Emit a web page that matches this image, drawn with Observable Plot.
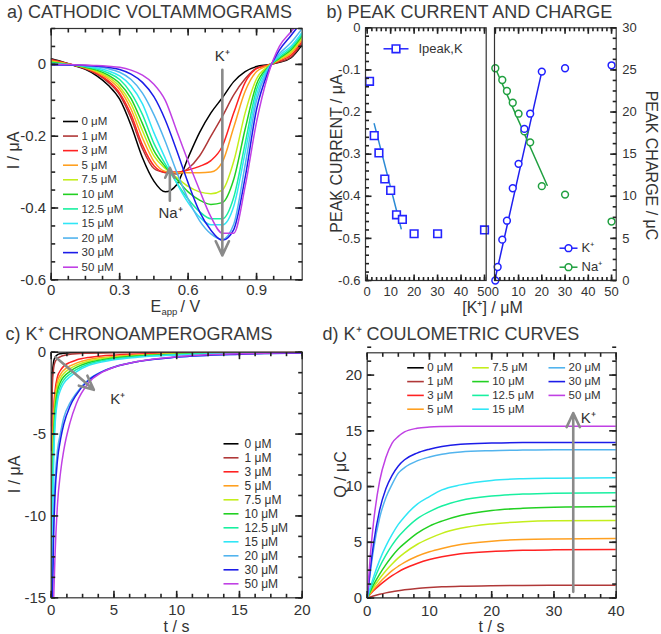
<!DOCTYPE html>
<html><head><meta charset="utf-8">
<script src="https://cdn.jsdelivr.net/npm/d3@7"></script>
<script src="https://cdn.jsdelivr.net/npm/@observablehq/plot@0.6"></script>
<style>
html,body{margin:0;padding:0;background:#fff;}
#fig{position:relative;width:661px;height:634px;overflow:hidden;}
#fig svg{position:absolute;left:0;top:0;}
</style></head><body><div id="fig"></div>
<script>
const W = 661, H = 634;
const FONT = '"Liberation Sans", Arial, Helvetica, sans-serif';
const TXT = "#333";

const concLabels = ["0 μM","1 μM","3 μM","5 μM","7.5 μM","10 μM","12.5 μM","15 μM","20 μM","30 μM","50 μM"];
const seriesColors = ["#000000","#b03838","#ff2222","#ffa020","#c4ee1c","#22d022","#18f0a0","#30e6f6","#52b4ee","#1c1ce8","#c040e4"];

const cvE = [0,0.05,0.1,0.15,0.2,0.25,0.3,0.35,0.4,0.45,0.5,0.55,0.6,0.65,0.7,0.75,0.8,0.85,0.9,0.95,1.0,1.05,1.1];
const cv_0   = [0.016,0.007,-0.003,-0.014,-0.032,-0.058,-0.097,-0.17,-0.26,-0.325,-0.355,-0.335,-0.26,-0.19,-0.135,-0.093,-0.048,-0.02,-0.006,-0.001,0.006,0.018,0.055];
const cv_1   = [0.014,0.006,-0.002,-0.012,-0.027,-0.05,-0.085,-0.15,-0.235,-0.29,-0.302,-0.305,-0.29,-0.255,-0.2,-0.145,-0.085,-0.04,-0.01,-0.002,0.007,0.02,0.06];
const cv_3   = [0.012,0.005,-0.002,-0.011,-0.025,-0.046,-0.08,-0.14,-0.225,-0.282,-0.3,-0.3,-0.294,-0.284,-0.268,-0.228,-0.135,-0.05,-0.012,-0.002,0.01,0.025,0.065];
const cv_5   = [0.01,0.004,-0.002,-0.01,-0.022,-0.04,-0.07,-0.125,-0.205,-0.27,-0.298,-0.302,-0.302,-0.302,-0.3,-0.272,-0.175,-0.075,-0.02,-0.003,0.012,0.03,0.07];
const cv_7_5 = [0.008,0.003,-0.002,-0.009,-0.019,-0.035,-0.062,-0.11,-0.185,-0.255,-0.29,-0.315,-0.34,-0.355,-0.36,-0.35,-0.27,-0.135,-0.04,-0.006,0.015,0.035,0.075];
const cv_10  = [0.006,0.002,-0.002,-0.008,-0.016,-0.03,-0.053,-0.095,-0.165,-0.24,-0.285,-0.32,-0.355,-0.378,-0.39,-0.385,-0.32,-0.18,-0.055,-0.008,0.017,0.04,0.08];
const cv_12_5= [0.004,0.001,-0.002,-0.006,-0.013,-0.024,-0.042,-0.08,-0.14,-0.22,-0.278,-0.33,-0.375,-0.41,-0.43,-0.43,-0.37,-0.22,-0.07,-0.01,0.02,0.045,0.085];
const cv_15  = [0.002,0,-0.002,-0.005,-0.01,-0.018,-0.032,-0.06,-0.11,-0.19,-0.262,-0.33,-0.385,-0.425,-0.447,-0.447,-0.395,-0.245,-0.085,-0.012,0.025,0.05,0.09];
const cv_20  = [0,-0.001,-0.002,-0.004,-0.007,-0.012,-0.022,-0.042,-0.08,-0.14,-0.215,-0.3,-0.375,-0.435,-0.472,-0.487,-0.445,-0.28,-0.1,-0.015,0.03,0.06,0.1];
const cv_30  = [-0.002,-0.002,-0.002,-0.003,-0.005,-0.008,-0.014,-0.027,-0.05,-0.09,-0.155,-0.24,-0.33,-0.41,-0.462,-0.49,-0.46,-0.315,-0.125,-0.022,0.04,0.08,0.12];
const cv_50  = [0,0,-0.001,-0.002,-0.003,-0.005,-0.008,-0.016,-0.03,-0.055,-0.1,-0.185,-0.27,-0.35,-0.425,-0.47,-0.47,-0.34,-0.16,-0.03,0.05,0.09,0.13];
const cvSeries = [cv_0,cv_1,cv_3,cv_5,cv_7_5,cv_10,cv_12_5,cv_15,cv_20,cv_30,cv_50];

const ipeakConc = [1,3,5,7.5,10,12.5,15,20,30,50];
const ipeakK    = [-0.127,-0.256,-0.297,-0.359,-0.386,-0.444,-0.455,-0.489,-0.489,-0.48];
const ipeakFitX = [3,14.5];
const ipeakFitY = [-0.228,-0.477];
const qKConc  = [0,1,3,5,7.5,10,12.5,15,20,30,50];
const qK      = [0,1.6,4.85,7.1,10.95,13.85,18.0,19.8,24.8,25.2,25.55];
const qKFitX  = [0,20];
const qKFitY  = [0.3,24.8];
const qNaConc = [0,3,5,7.5,10,12.5,15,20,30,50];
const qNa     = [25.2,23.8,22.5,21.1,19.8,17.7,16.4,11.2,10.2,7.0];
const qNaFitX = [0,22.3];
const qNaFitY = [25.2,11.3];

const caT0 = [0.02,0.05,0.1,0.2,0.3,0.5,0.75,1,1.5,2,3,5,10,20];
const ca_0 = [-4.5,-2.5,-1.3,-0.55,-0.32,-0.15,-0.09,-0.06,-0.04,-0.03,-0.02,-0.01,0,0];
const ca_1 = [-6,-3.5,-1.9,-0.95,-0.62,-0.38,-0.27,-0.2,-0.13,-0.09,-0.06,-0.03,-0.01,0];
const caT  = [0.03,0.1,0.2,0.3,0.5,0.75,1,1.5,2,3,4,5,7,10,15,20];
const ca_3   = [-16,-6,-3.4,-2.4,-1.5,-1.1,-0.85,-0.62,-0.48,-0.32,-0.23,-0.18,-0.11,-0.06,-0.03,-0.01];
const ca_5   = [-16,-7,-3.9,-2.8,-1.8,-1.35,-1.1,-0.84,-0.67,-0.45,-0.33,-0.26,-0.17,-0.09,-0.04,-0.02];
const ca_7_5 = [-16,-8,-4.5,-3.2,-2.1,-1.58,-1.3,-1.0,-0.8,-0.54,-0.4,-0.31,-0.2,-0.11,-0.05,-0.02];
const ca_10  = [-16,-9,-5.1,-3.6,-2.4,-1.8,-1.5,-1.17,-0.93,-0.63,-0.47,-0.36,-0.23,-0.13,-0.06,-0.03];
const ca_12_5= [-16,-10,-5.8,-4.1,-2.7,-2.05,-1.7,-1.33,-1.06,-0.72,-0.53,-0.41,-0.26,-0.15,-0.07,-0.03];
const ca_15  = [-16,-11,-6.5,-4.6,-3.0,-2.3,-1.9,-1.5,-1.2,-0.8,-0.6,-0.46,-0.3,-0.17,-0.08,-0.04];
const ca_20  = [-16,-14,-10,-8,-6,-4.9,-4.0,-3.1,-2.5,-1.65,-1.2,-0.9,-0.55,-0.3,-0.12,-0.05];
const ca_30  = [-16,-15,-11,-8.8,-6.6,-5.3,-4.4,-3.3,-2.6,-1.7,-1.22,-0.92,-0.56,-0.3,-0.12,-0.05];
const ca_50  = [-16,-16,-15,-12.5,-9.3,-7.3,-6.0,-4.3,-3.15,-1.85,-1.25,-0.92,-0.55,-0.28,-0.1,-0.04];
const caSeries = [[caT0,ca_0],[caT0,ca_1],[caT,ca_3],[caT,ca_5],[caT,ca_7_5],[caT,ca_10],[caT,ca_12_5],[caT,ca_15],[caT,ca_20],[caT,ca_30],[caT,ca_50]];

const qT = [0,0.5,1,2,3,4,5,6,8,10,12,15,20,25,30,40];
const q_0   = [0,0,0,0,0,0,0,0,0,0,0,0,0,0,0,0];
const q_1   = [0,0.1,0.18,0.33,0.46,0.57,0.66,0.74,0.86,0.94,1.0,1.06,1.11,1.13,1.14,1.15];
const q_3   = [0,0.35,0.65,1.15,1.6,2.0,2.35,2.65,3.1,3.45,3.7,3.97,4.18,4.28,4.32,4.35];
const q_5   = [0,0.4,0.75,1.4,1.95,2.45,2.85,3.2,3.75,4.15,4.45,4.8,5.1,5.25,5.3,5.33];
const q_7_5 = [0,0.5,0.95,1.75,2.45,3.05,3.6,4.05,4.8,5.35,5.8,6.25,6.65,6.85,6.93,6.96];
const q_10  = [0,0.6,1.17,2.15,3.0,3.75,4.4,4.9,5.8,6.45,6.9,7.4,7.85,8.05,8.14,8.2];
const q_12_5= [0,0.78,1.5,2.8,3.85,4.75,5.5,6.1,7.1,7.75,8.25,8.75,9.15,9.32,9.4,9.45];
const q_15  = [0,0.97,1.85,3.4,4.65,5.7,6.6,7.3,8.4,9.1,9.7,10.15,10.55,10.7,10.75,10.8];
const q_20  = [0,2.3,4.3,7.2,9.0,10.2,11.2,11.7,12.3,12.65,12.9,13.1,13.22,13.27,13.3,13.3];
const q_30  = [0,2.6,4.8,7.9,9.8,11.0,11.85,12.4,13.0,13.35,13.6,13.8,13.9,13.95,13.95,13.95];
const q_50  = [0,3.8,6.7,10.5,12.6,13.9,14.5,14.9,15.23,15.34,15.38,15.4,15.4,15.4,15.4,15.4];
const qSeries = [q_0,q_1,q_3,q_5,q_7_5,q_10,q_12_5,q_15,q_20,q_30,q_50];

const cvRows = cvSeries.flatMap((s,k)=>s.map((v,i)=>({E:cvE[i], I:v, c:concLabels[k]})));
const caRows = caSeries.flatMap(([t,s],k)=>s.map((v,i)=>({t:t[i], I:v, c:concLabels[k]})));
const qRows  = qSeries.flatMap((s,k)=>s.map((v,i)=>({t:qT[i], Q:v, c:concLabels[k]})));
const zip = (xs,ys)=>xs.map((x,i)=>({x, y:ys[i]}));

const frameBox = b=>({marginLeft:b.l, marginRight:W-b.r, marginTop:b.t, marginBottom:H-b.b});
const steps = (a,b,s)=>d3.range(Math.round((b-a)/s)+1).map(i=>+(a+i*s).toFixed(6));
const baseStyle = {background:"transparent", fontFamily:FONT, color:TXT, overflow:"visible"};
const colorScale = {domain:concLabels, range:seriesColors};

function labX(values, fs, pad){
  return Plot.axisX({anchor:"bottom", ticks:values, tickSize:0, tickPadding:pad, fontSize:fs, fill:TXT, tickFormat:d=>String(d), label:null});
}
function labY(anchor, values, fs, pad){
  return Plot.axisY({anchor, ticks:values, tickSize:0, tickPadding:pad, fontSize:fs, fill:TXT, tickFormat:d=>String(d), label:null});
}
const ARROW = {stroke:"#8a8a8a", strokeWidth:2.6, headLength:9, headAngle:50};

const tickSegs = [];
function addTicks(box, spec){
  const sx = d3.scaleLinear(box.xd, [box.l, box.r]);
  const sy = d3.scaleLinear(box.yd, [box.b, box.t]);
  for (const [side, values, size] of spec) {
    for (const v of values) {
      if (side==="bottom" || side==="top") {
        const px = sx(v), y0 = side==="bottom" ? box.b : box.t, s = side==="bottom" ? -size : size;
        tickSegs.push({x1:px, x2:px, y1:y0, y2:y0+s});
      } else {
        const py = sy(v), x0 = side==="left" ? box.l : box.r, s = side==="left" ? size : -size;
        tickSegs.push({x1:x0, x2:x0+s, y1:py, y2:py});
      }
    }
  }
}

const fig = document.getElementById("fig");

const boxA = {l:50.7, r:301.7, t:28, b:279.3, xd:[0,1.1], yd:[-0.6,0.1]};
const aXMaj=[0,0.3,0.6,0.9], aYMaj=[0.0,-0.2,-0.4,-0.6];
const aXMin=steps(0,1.05,0.075), aYMin=steps(-0.6,0.1,0.05);
fig.append(Plot.plot({
  width:W, height:H, ...frameBox(boxA), style:baseStyle,
  x:{domain:boxA.xd}, y:{domain:boxA.yd}, color:colorScale,
  marks:[
    Plot.line(cvRows,{x:"E", y:"I", z:"c", stroke:"c", strokeWidth:1.5, curve:"monotone-x", clip:true}),
    Plot.arrow([{x:0.75,y1:-0.015,y2:-0.532}],{x1:"x",x2:"x",y1:"y1",y2:"y2",...ARROW}),
    Plot.arrow([{x:0.52,y1:-0.38,y2:-0.288}],{x1:"x",x2:"x",y1:"y1",y2:"y2",...ARROW}),
    Plot.text([{x:0.75,y:0.023,t:"K⁺"}],{x:"x",y:"y",text:"t",fontSize:15,fill:TXT}),
    Plot.text([{x:0.523,y:-0.414,t:"Na⁺"}],{x:"x",y:"y",text:"t",fontSize:15,fill:TXT}),
    labX(aXMaj, 15, 5), labY("left", aYMaj, 15, 5),
    Plot.frame({stroke:"#333", strokeWidth:1.2})
  ]
}));
addTicks(boxA, [["bottom",aXMaj,7],["top",aXMaj,7],["bottom",aXMin,4],["top",aXMin,4],
                ["left",aYMaj,7],["right",aYMaj,7],["left",aYMin,4],["right",aYMin,4]]);

const boxBL = {l:365, r:485.7, t:27.3, b:280, xd:[-0.72,50.72], yd:[-0.6,0]};
const bXMaj=[0,10,20,30,40,50], bXMin=steps(0,50,2);
const bYMaj=[0,-0.1,-0.2,-0.3,-0.4,-0.5,-0.6];
fig.append(Plot.plot({
  width:W, height:H, ...frameBox(boxBL), style:baseStyle,
  x:{domain:boxBL.xd}, y:{domain:boxBL.yd},
  marks:[
    Plot.line(zip(ipeakFitX,ipeakFitY),{x:"x",y:"y",stroke:"#2b8ad4",strokeWidth:1.5}),
    Plot.dot(zip(ipeakConc,ipeakK),{x:"x",y:"y",symbol:"square",r:4.3,stroke:"#2424ff",strokeWidth:1.6,fill:"white"}),
    labX(bXMaj, 13, 6), labY("left", bYMaj, 13, 5),
    Plot.frame({stroke:"#333", strokeWidth:1.2})
  ]
}));
addTicks(boxBL, [["bottom",bXMaj,6],["top",bXMaj,6],["bottom",bXMin,3.5],["top",bXMin,3.5],
                 ["left",bYMaj,6],["left",steps(-0.6,0,0.02),3.5]]);

const boxBR = {l:494, r:615.7, t:27.3, b:280, xd:[-0.35,52], yd:[0,30]};
const bRYMaj=[0,5,10,15,20,25,30];
fig.append(Plot.plot({
  width:W, height:H, ...frameBox(boxBR), style:baseStyle,
  x:{domain:boxBR.xd}, y:{domain:boxBR.yd},
  marks:[
    Plot.line(zip(qKFitX,qKFitY),{x:"x",y:"y",stroke:"#2020f0",strokeWidth:1.5}),
    Plot.line(zip(qNaFitX,qNaFitY),{x:"x",y:"y",stroke:"#20a040",strokeWidth:1.5}),
    Plot.dot(zip(qNaConc,qNa),{x:"x",y:"y",r:3.4,stroke:"#20a040",strokeWidth:1.5,fill:"white"}),
    Plot.dot(zip(qKConc,qK),{x:"x",y:"y",r:3.4,stroke:"#2020ff",strokeWidth:1.5,fill:"white"}),
    labX(bXMaj, 13, 6), labY("right", bRYMaj, 13, 6),
    Plot.frame({stroke:"#333", strokeWidth:1.2})
  ]
}));
addTicks(boxBR, [["bottom",bXMaj,6],["top",bXMaj,6],["bottom",bXMin,3.5],["top",bXMin,3.5],
                 ["right",bRYMaj,6],["right",steps(0,30,1.25),3.5]]);

const boxC = {l:50.7, r:301.7, t:351.7, b:597.3, xd:[0,20], yd:[-15,0]};
const cXMaj=[0,5,10,15,20], cYMaj=[0,-5,-10,-15];
fig.append(Plot.plot({
  width:W, height:H, ...frameBox(boxC), style:baseStyle,
  x:{domain:boxC.xd}, y:{domain:boxC.yd}, color:colorScale,
  marks:[
    Plot.line(caRows,{x:"t", y:"I", z:"c", stroke:"c", strokeWidth:1.5, curve:"monotone-x", clip:true}),
    Plot.arrow([{x1:0.34,y1:-0.3,x2:3.4,y2:-2.3}],{x1:"x1",x2:"x2",y1:"y1",y2:"y2",...ARROW}),
    Plot.text([{x:5.3,y:-2.85,t:"K⁺"}],{x:"x",y:"y",text:"t",fontSize:15,fill:TXT}),
    labX(cXMaj, 15, 7), labY("left", cYMaj, 15, 5),
    Plot.frame({stroke:"#333", strokeWidth:1.2})
  ]
}));
addTicks(boxC, [["bottom",cXMaj,7],["top",cXMaj,7],["bottom",steps(0,20,1.25),4],["top",steps(0,20,1.25),4],
                ["left",cYMaj,7],["right",cYMaj,7],["left",steps(-15,0,1.25),4],["right",steps(-15,0,1.25),4]]);

const boxD = {l:366.7, r:615.7, t:352.3, b:597.5, xd:[0,40], yd:[0,22]};
const dXMaj=[0,10,20,30,40], dYMaj=[0,5,10,15,20];
fig.append(Plot.plot({
  width:W, height:H, ...frameBox(boxD), style:baseStyle,
  x:{domain:boxD.xd}, y:{domain:boxD.yd}, color:colorScale,
  marks:[
    Plot.line(qRows,{x:"t", y:"Q", z:"c", stroke:"c", strokeWidth:1.5, curve:"monotone-x", clip:true}),
    Plot.arrow([{x:33.1,y1:0.55,y2:16.6}],{x1:"x",x2:"x",y1:"y1",y2:"y2",...ARROW}),
    Plot.text([{x:34.3,y:16.1,t:"K⁺"}],{x:"x",y:"y",text:"t",fontSize:15,fill:TXT,textAnchor:"start"}),
    labX(dXMaj, 15, 7), labY("left", dYMaj, 15, 5),
    Plot.frame({stroke:"#333", strokeWidth:1.2})
  ]
}));
addTicks(boxD, [["bottom",dXMaj,7],["top",dXMaj,7],["bottom",steps(0,40,2.5),4],["top",steps(0,40,2.5),4],
                ["left",dYMaj,7],["right",dYMaj,7],["left",steps(0,22,1.25),4],["right",steps(0,22,1.25),4]]);

const titles = [
  {x:6.5, y:17, t:"a) CATHODIC VOLTAMMOGRAMS"},
  {x:326, y:17, t:"b) PEAK CURRENT AND CHARGE"},
  {x:5,   y:339.5, t:"c) K⁺ CHRONOAMPEROGRAMS"},
  {x:322, y:339.5, t:"d) K⁺ COULOMETRIC CURVES"}
];
const axisTitlesH = [
  {x:176, y:631, t:"t / s"},
  {x:491, y:631, t:"t / s"},
  {x:492, y:312, t:"[K⁺] / μM"}
];
const axisTitlesV = [
  {x:18, y:150, t:"I / μA", r:-90},
  {x:19, y:474, t:"I / μA", r:-90},
  {x:341, y:153, t:"PEAK CURRENT / μA", r:-90},
  {x:345, y:474, t:"Q / μC", r:-90},
  {x:645, y:165, t:"PEAK CHARGE / μC", r:90}
];
const legA = concLabels.map((c,i)=>({c, y:121 + i*14.57}));
const legC = concLabels.map((c,i)=>({c, y:443.3 + i*14}));
const dColX = [406.7, 471.7, 548];
const legD = concLabels.map((c,i)=>({c, x:dColX[i<4?0:i<8?1:2], y:367.3 + (i<4?i:i<8?i-4:i-8)*13.8}));
const legB = [
  {t:"K⁺", col:"#2020ff", y:247.7},
  {t:"Na⁺", col:"#20a040", y:266.7}
];

fig.append(Plot.plot({
  width:W, height:H, margin:0, style:baseStyle,
  x:{type:"identity", axis:null}, y:{type:"identity", axis:null}, color:colorScale,
  marks:[
    Plot.link(tickSegs,{x1:"x1",y1:"y1",x2:"x2",y2:"y2",stroke:"#222",strokeWidth:1.6}),
    Plot.text(titles,{x:"x",y:"y",text:"t",textAnchor:"start",lineAnchor:"bottom",fontSize:18,fill:"#3a3a3a"}),
    Plot.text(axisTitlesH,{x:"x",y:"y",text:"t",textAnchor:"middle",lineAnchor:"bottom",fontSize:16,fill:TXT}),
    Plot.text(axisTitlesV,{x:"x",y:"y",text:"t",rotate:"r",textAnchor:"middle",lineAnchor:"bottom",fontSize:16,fill:TXT}),
    Plot.text([{x:150,y:311,t:"E"}],{x:"x",y:"y",text:"t",textAnchor:"start",lineAnchor:"bottom",fontSize:16,fill:TXT}),
    Plot.text([{x:161,y:314,t:"app"}],{x:"x",y:"y",text:"t",textAnchor:"start",lineAnchor:"bottom",fontSize:9.5,fill:TXT}),
    Plot.text([{x:180,y:311,t:"/ V"}],{x:"x",y:"y",text:"t",textAnchor:"start",lineAnchor:"bottom",fontSize:16,fill:TXT}),
    Plot.link(legA,{x1:()=>62.5,x2:()=>77.5,y1:"y",y2:"y",stroke:"c",strokeWidth:1.6}),
    Plot.text(legA,{x:()=>81,y:"y",text:"c",textAnchor:"start",lineAnchor:"middle",fontSize:11.5,fill:TXT}),
    Plot.link(legC,{x1:()=>223,x2:()=>238,y1:"y",y2:"y",stroke:"c",strokeWidth:1.6}),
    Plot.text(legC,{x:()=>244,y:"y",text:"c",textAnchor:"start",lineAnchor:"middle",fontSize:12,fill:TXT}),
    Plot.link(legD,{x1:"x",x2:d=>d.x+16.6,y1:"y",y2:"y",stroke:"c",strokeWidth:1.6}),
    Plot.text(legD,{x:d=>d.x+20,y:"y",text:"c",textAnchor:"start",lineAnchor:"middle",fontSize:11.5,fill:TXT}),
    Plot.link([{y:48.3}],{x1:()=>383,x2:()=>408,y1:"y",y2:"y",stroke:"#2424ff",strokeWidth:1.5}),
    Plot.dot([{y:48.3}],{x:()=>395.5,y:"y",symbol:"square",r:4.3,stroke:"#2424ff",strokeWidth:1.6,fill:"white"}),
    Plot.text([{y:48.3,t:"Ipeak,K"}],{x:()=>418,y:"y",text:"t",textAnchor:"start",lineAnchor:"middle",fontSize:13,fill:TXT}),
    Plot.link(legB,{x1:()=>559,x2:()=>577,y1:"y",y2:"y",stroke:d=>d.col,strokeWidth:1.5}),
    Plot.dot(legB,{x:()=>568,y:"y",r:3.4,stroke:d=>d.col,strokeWidth:1.5,fill:"white"}),
    Plot.text(legB,{x:()=>581,y:"y",text:"t",textAnchor:"start",lineAnchor:"middle",fontSize:13,fill:TXT})
  ]
}));
</script></body></html>
